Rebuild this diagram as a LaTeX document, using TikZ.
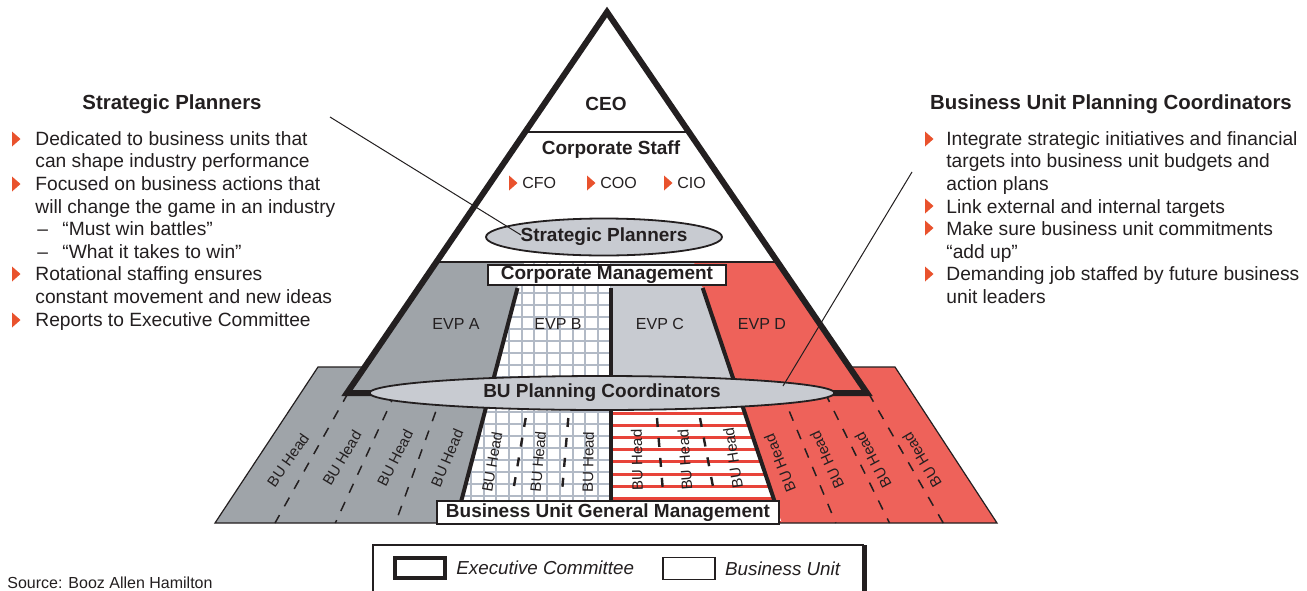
\documentclass[tikz,border=0pt]{standalone}
\usepackage{fontspec}
\setmainfont{Liberation Sans}
\usetikzlibrary{positioning, calc, shapes.geometric}

\definecolor{evpgray}{RGB}{159,164,169}
\definecolor{evplight}{RGB}{200,203,209}
\definecolor{evpred}{RGB}{238,98,90}
\definecolor{stripered}{RGB}{232,68,58}
\definecolor{gridblue}{RGB}{178,186,198}
\definecolor{bulletred}{RGB}{233,82,45}
\definecolor{inkblack}{RGB}{35,31,32}

\begin{document}
\begin{tikzpicture}
    [
        x=0.5pt, y=-0.5pt,
        tagtext/.style = {font=\fontsize{9.5}{11}\selectfont\bfseries, text=inkblack},
        sidetitle/.style = {font=\fontsize{10.2}{12}\selectfont\bfseries, text=inkblack, inner sep=0pt},
        bodytext/.style = {font=\fontsize{9.6}{11.3}\selectfont, text=inkblack, align=left, inner sep=0pt},
        plate/.style = {tagtext, draw=inkblack, line width=1pt, fill=white, inner sep=0pt},
        oval/.style = {tagtext, ellipse, draw=inkblack, line width=0.9pt, fill=evplight, inner sep=0pt},
        evp/.style = {font=\fontsize{8}{10}\selectfont, text=inkblack, inner sep=0pt},
        buhead/.style = {font=\fontsize{7.5}{9}\selectfont, text=inkblack, inner sep=0pt},
        keytext/.style = {font=\fontsize{9.4}{11}\selectfont\itshape, text=inkblack, inner sep=0pt},
        divider/.style = {draw=inkblack, line width=2pt},
        cutline/.style = {draw=inkblack, line width=0.75pt, dash pattern=on 5pt off 5pt},
        cutlinebold/.style = {draw=inkblack, line width=1.2pt, dash pattern=on 4.5pt off 5.5pt},
        gridline/.style = {draw=gridblue, line width=1pt},
        stripe/.style = {draw=stripered, line width=1.5pt},
        leader/.style = {draw=inkblack, line width=0.5pt},
        bul/.style = {fill=bulletred}
    ]
    \fill[white] (0,0) rectangle (1307,590);
    \useasboundingbox (0,0) rectangle (1307,590);

    \coordinate (apex) at (607,12);
    \coordinate (bl) at (347,393);
    \coordinate (br) at (867,393);

    % columns of the pyramid and of the base
    \begin{scope}
        \clip (apex) -- (bl) -- (br) -- cycle (318,367) -- (215,523) -- (997,523) -- (895,367) -- cycle;
        \fill[evpgray] (0,262) -- (524.4,262) -- (455.5,523) -- (0,523) -- cycle;
        \begin{scope}
            \clip (524.4,262) -- (611,262) -- (611,523) -- (455.5,523) -- cycle;
            \fill[white] (440,262) rectangle (611,523);
            \foreach \i in {0,...,11} \draw[gridline] ({470.9+12.7*\i},262) -- ({470.9+12.7*\i},523);
            \foreach \j in {0,...,22} \draw[gridline] (440,{269.5+11.9*\j}) -- (620,{269.5+11.9*\j});
        \end{scope}
        \fill[evplight] (611,262) -- (693.9,262) -- (738.1,393) -- (611,393) -- cycle;
        \begin{scope}
            \clip (611,393) -- (738.1,393) -- (781.9,523) -- (611,523) -- cycle;
            \fill[white] (611,393) rectangle (790,523);
            \foreach \j in {0,...,10} \draw[stripe] (600,{400.9+12.2*\j}) -- (800,{400.9+12.2*\j});
        \end{scope}
        \fill[evpred] (693.9,262) -- (1307,262) -- (1307,523) -- (781.9,523) -- cycle;
    \end{scope}

    \draw[inkblack, line width=0.6pt] (365,367) -- (318,367) -- (215,523) -- (997,523) -- (895,367) -- (849,367);

    % BU head separators
    \foreach \ta/\tb in {348.1/275, 395.3/335.3, 442.5/395.4} \draw[cutline] (\ta,393) -- (\tb,523);
    \foreach \ta/\tb in {781.7/835.75, 825.1/889.5, 868.4/943.25} \draw[cutline] (\ta,393) -- (\tb,523);
    \foreach \ta/\tb in {525.7/513, 568.3/562, 657/663, 700/714} \draw[cutlinebold] (\ta,418) -- (\tb,492);

    \foreach \hx/\hy/\ha [count=\k] in {288/460/55, 342/458/59, 395/458/63, 447/458/67,
        492/462/80, 538/462/85, 588/462/89, 637/460/91, 685/460/94, 733/458/99,
        780/463/112, 827/460/115, 873/460/118, 922/460/121}
        \node[buhead, rotate=\ha] (buhead\k) at (\hx,\hy) {BU Head};

    \draw[divider] (517.5,288) -- (458.9,510);
    \draw[divider] (611,288) -- (611,510);
    \draw[divider] (702.7,288) -- (777.5,510);

    % pyramid
    \draw[inkblack, line width=0.6pt] ($(apex)!0.315!(bl)$) -- ($(apex)!0.315!(br)$);
    \draw[inkblack, line width=0.6pt] ($(apex)!0.656!(bl)$) -- ($(apex)!0.656!(br)$);
    \draw[inkblack, line width=3pt, line join=miter] (apex) -- (bl) -- (br) -- cycle;

    \node[tagtext] (ceo) at (606,104) {CEO};
    \node[tagtext] (corpstaff) at (611,150) {Corporate Staff};
    \node[evp, anchor=west] (cfo) at (522,183) {CFO};
    \node[evp, anchor=west] (coo) at (600,183) {COO};
    \node[evp, anchor=west] (cio) at (677,183) {CIO};

    \node[oval, minimum width=111pt, minimum height=18.5pt] (spoval) at (604,237) {Strategic Planners};
    \node[plate, minimum width=119pt, minimum height=10pt] (corpmgmt) at (607,275) {Corporate Management};

    \node[evp] (evpa) at (456,324) {EVP A};
    \node[evp] (evpb) at (558,324) {EVP B};
    \node[evp] (evpc) at (660,324) {EVP C};
    \node[evp] (evpd) at (762,324) {EVP D};

    \node[oval, minimum width=232.5pt, minimum height=17pt] (bupoval) at (602,393) {BU Planning Coordinators};
    \node[plate, minimum width=171pt, minimum height=11.5pt] (bugm) at (608,512.5) {Business Unit General Management};

    % side texts
    \node[sidetitle] (sptitle) at (172,104) {Strategic Planners};
    \node[bodytext, anchor=north west] (spbody) at (35,131) {Dedicated to business units that\\
        can shape industry performance\\
        Focused on business actions that\\
        will change the game in an industry\\
        \makebox[13.5pt][l]{\hspace{1pt}--}``Must win battles''\\
        \makebox[13.5pt][l]{\hspace{1pt}--}``What it takes to win''\\
        Rotational staffing ensures\\
        constant movement and new ideas\\
        Reports to Executive Committee};

    \node[sidetitle] (buptitle) at (1111,104) {Business Unit Planning Coordinators};
    \node[bodytext, anchor=north west] (bupbody) at (946,131) {Integrate strategic initiatives and financial\\
        targets into business unit budgets and\\
        action plans\\
        Link external and internal targets\\
        Make sure business unit commitments\\
        ``add up''\\
        Demanding job staffed by future business\\
        unit leaders};

    \foreach \bx/\by in {12/139, 12/184, 12/274, 12/320, 925/139, 925/206, 925/228, 925/274, 509/183, 587/183, 664/183}
        \fill[bul] (\bx,{\by-7.5}) -- (\bx,{\by+7.5}) -- ({\bx+8.5},\by) -- cycle;

    \coordinate (spend) at (330,117);
    \coordinate (sptip) at (521,235);
    \draw[leader] (spend) -- (sptip);
    \coordinate (bupend) at (912,172);
    \coordinate (buptip) at (783,386);
    \draw[leader] (bupend) -- (buptip);

    % key
    \draw[inkblack, line width=0.6pt] (373,592) -- (373,545) -- (864,545);
    \draw[inkblack, line width=2.75pt] (864.5,545) -- (864.5,592);
    \node[draw=inkblack, line width=2pt, minimum width=25pt, minimum height=10pt, inner sep=0pt] (execkey) at (420,568) {};
    \node[keytext, right=4.5pt of execkey] (execlabel) {Executive Committee};
    \node[draw=inkblack, line width=0.75pt, minimum width=26pt, minimum height=11pt, inner sep=0pt] (bukey) at (689,568.5) {};
    \node[keytext, right=4.5pt of bukey] (bulabel) {Business Unit};

    \node[font=\fontsize{8}{10}\selectfont, text=inkblack, anchor=west, inner sep=0pt] (source) at (7,583) {Source: Booz Allen Hamilton};
\end{tikzpicture}
\end{document}
